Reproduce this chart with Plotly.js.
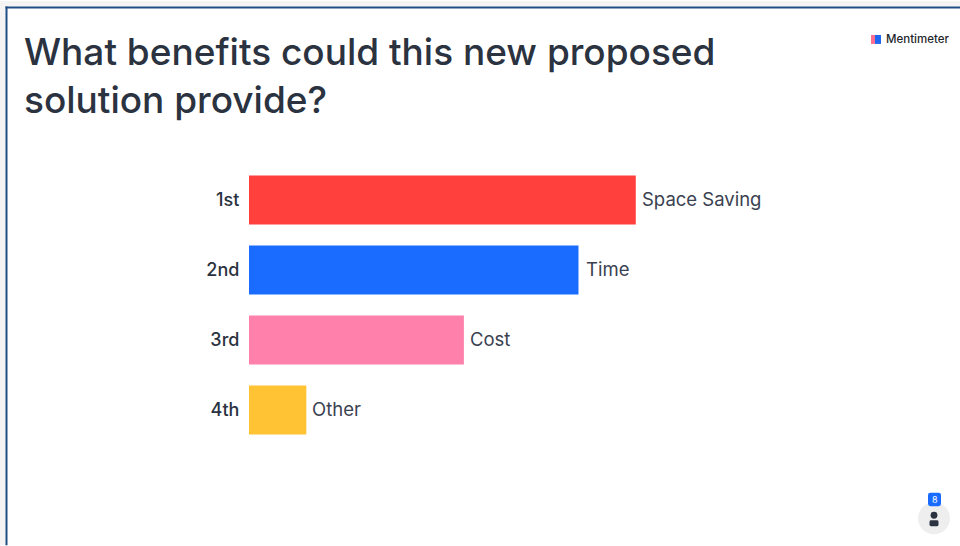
<!DOCTYPE html>
<html>
<head>
<meta charset="utf-8">
<script src="https://cdn.plot.ly/plotly-3.0.1.min.js"></script>
<style>html,body{margin:0;padding:0;background:#fff}#chart{width:960px;height:546px}</style>
</head>
<body>
<div id="chart"></div>
<script>
const ranks = ['1st', '2nd', '3rd', '4th'];
const options = ['Space Saving', 'Time', 'Cost', 'Other'];
const scores = [27, 23, 15, 4];
const barColors = ['#ff403d', '#196cff', '#ff80ab', '#ffc333'];

const W = 960, H = 546;
const m = {l: 249, r: 138, t: 164.5, b: 100.5};
const pw = W - m.l - m.r, ph = H - m.t - m.b;
const px = v => (v - m.l) / pw;
const py = v => 1 - (v - m.t) / ph;
const FONT = 'Inter, "Noto Sans", sans-serif';
const INK = '#2b3240';

function rect(x0, y0, x1, y1, fill) {
  return {type: 'rect', xref: 'paper', yref: 'paper', x0: px(x0), x1: px(x1), y0: py(y0), y1: py(y1),
          fillcolor: fill, line: {width: 0}, layer: 'above'};
}
function circle(cx, cy, r, fill) {
  return {type: 'circle', xref: 'paper', yref: 'paper', x0: px(cx - r), x1: px(cx + r), y0: py(cy - r), y1: py(cy + r),
          fillcolor: fill, line: {width: 0}, layer: 'above'};
}
function roundedRect(x0, y0, x1, y1, r, fill) {
  const X = v => px(v), Y = v => py(v);
  const d = `M${X(x0 + r)},${Y(y0)} L${X(x1 - r)},${Y(y0)} Q${X(x1)},${Y(y0)} ${X(x1)},${Y(y0 + r)} ` +
            `L${X(x1)},${Y(y1 - r)} Q${X(x1)},${Y(y1)} ${X(x1 - r)},${Y(y1)} ` +
            `L${X(x0 + r)},${Y(y1)} Q${X(x0)},${Y(y1)} ${X(x0)},${Y(y1 - r)} ` +
            `L${X(x0)},${Y(y0 + r)} Q${X(x0)},${Y(y0)} ${X(x0 + r)},${Y(y0)} Z`;
  return {type: 'path', xref: 'paper', yref: 'paper', path: d, fillcolor: fill, line: {width: 0}, layer: 'above'};
}
function note(text, x, y, size, color, anchor, yanchor, weight) {
  return {text, xref: 'paper', yref: 'paper', x: px(x), y: py(y), showarrow: false,
    xanchor: anchor, yanchor: yanchor, align: 'left', xshift: 0, yshift: 0,
    font: {family: FONT, size, color, weight: weight || 400}};
}

const trace = {
  type: 'bar', orientation: 'h', x: scores, y: ranks,
  marker: {color: barColors, line: {width: 0}},
  hoverinfo: 'skip'
};

const optionLabels = options.map((name, i) => ({
  text: name, x: scores[i], y: ranks[i], xref: 'x', yref: 'y', showarrow: false,
  xanchor: 'left', yanchor: 'middle', xshift: name === 'Time' ? 6 : 4, yshift: 1,
  font: {family: FONT, size: 18.5, color: '#3a4150'}
}));

const layout = {
  width: W, height: H, margin: m, showlegend: false,
  paper_bgcolor: '#ffffff', plot_bgcolor: '#ffffff', bargap: 0.3,
  xaxis: {range: [0, 40], visible: false, fixedrange: true},
  yaxis: {type: 'category', categoryorder: 'array', categoryarray: ranks, autorange: false, range: [3.5, -0.5],
          showgrid: false, zeroline: false, showline: false, ticks: 'outside', ticklen: 5, tickcolor: 'rgba(0,0,0,0)',
          tickfont: {family: FONT, size: 18, color: INK, weight: 500}},
  shapes: [
    rect(0, 0, 960, 5.5, '#f4f4f4'),
    rect(0, 0, 5.5, 546, '#f4f4f4'),
    rect(5.5, 5.5, 960, 7.5, '#1f4e85'),
    rect(5.5, 5.5, 7.5, 546, '#1f4e85'),
    rect(871, 34, 875, 43, '#ff6f8f'),
    rect(875, 34, 881, 43, '#1f66f0'),
    circle(934, 519, 16, '#eeeeef'),
    roundedRect(928, 493.5, 941, 507, 2.5, '#196cff'),
    circle(934, 516, 3.4, '#2b3240'),
    roundedRect(929.5, 521, 938.5, 527, 1.5, '#2b3240')
  ],
  annotations: [
    note('What benefits could this new proposed<br>solution provide?', 22, 26, 37, INK, 'left', 'top', 500),
    note('Mentimeter', 884, 38.5, 11.5, '#23252b', 'left', 'middle', 500),
    note('8', 934.5, 500, 9, '#ffffff', 'center', 'middle', 400)
  ].concat(optionLabels)
};

Plotly.newPlot('chart', [trace], layout, {displayModeBar: false, staticPlot: true});
</script>
</body>
</html>
